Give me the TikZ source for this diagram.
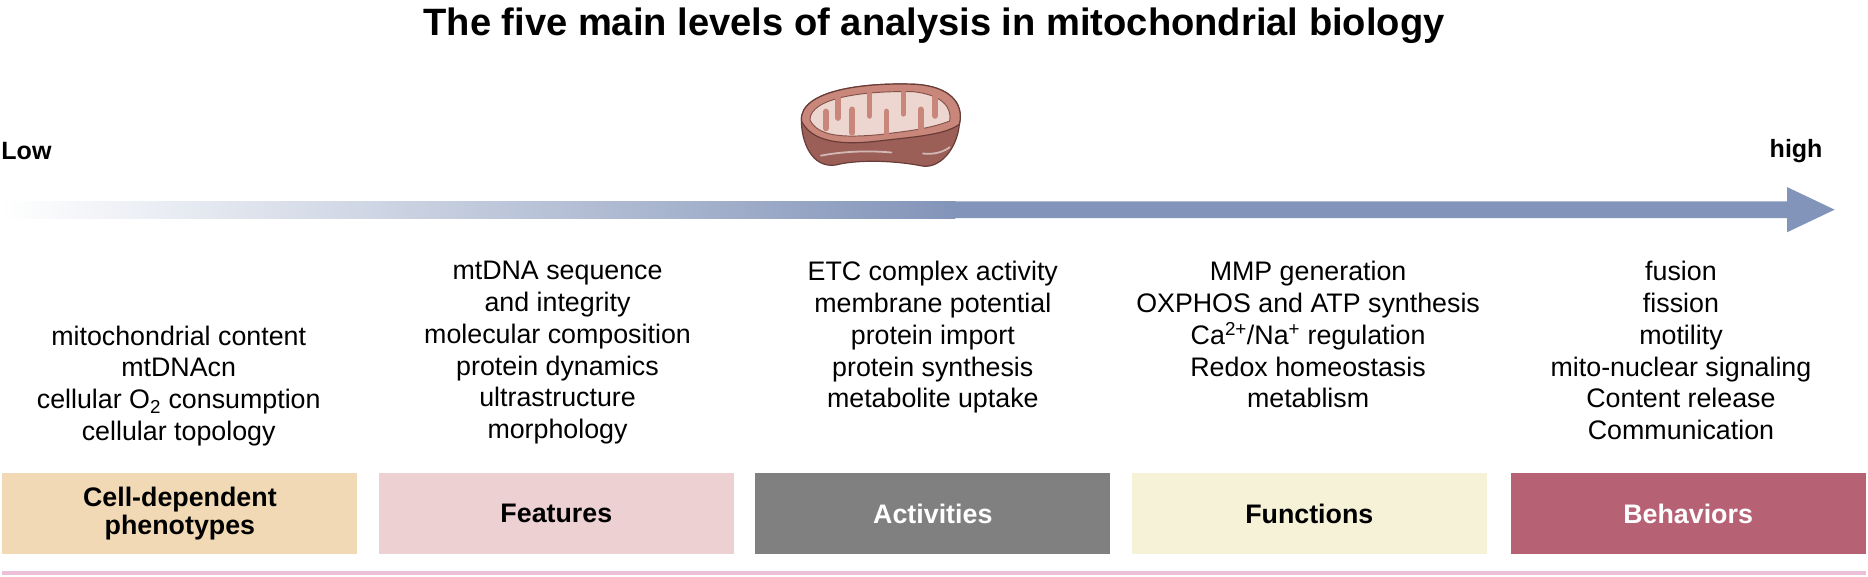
\documentclass[tikz,border=0pt]{standalone}
\usepackage{fontspec}
\setmainfont{Liberation Sans}
\usetikzlibrary{positioning}
\definecolor{arrowblue}{RGB}{130,148,185}
\definecolor{cellc}{RGB}{240,217,180}
\definecolor{featc}{RGB}{236,208,210}
\definecolor{actc}{RGB}{128,128,128}
\definecolor{funcc}{RGB}{245,242,215}
\definecolor{behc}{RGB}{182,98,116}
\definecolor{lineC}{RGB}{236,192,216}
\definecolor{mitoout}{RGB}{200,135,122}
\definecolor{mitodark}{RGB}{155,95,88}
\definecolor{mitoin}{RGB}{238,214,208}
\definecolor{mitoedge}{RGB}{105,60,55}
\tikzset{
  lvl/.style={minimum width=298pt, minimum height=68pt, inner sep=0pt,
    font=\fontsize{22.5}{25}\selectfont\bfseries, align=center},
  items/.style={font=\fontsize{22.5}{26.6}\selectfont, align=center, anchor=north},
  crista/.style={mitoout, line width=5pt, line cap=round},
}
\begin{document}
\begin{tikzpicture}[x=1pt,y=-1pt]
  \useasboundingbox (0,0) rectangle (1568,484);
  % title and ends of the scale
  \node (title) at (784,22) {\fontsize{32}{36}\selectfont\bfseries The five main levels of analysis in mitochondrial biology};
  \node[anchor=west, inner sep=1pt] (low) at (0,127) {\fontsize{21}{24}\selectfont\bfseries Low};
  \node[anchor=east, inner sep=1pt] (high) at (1531,127) {\fontsize{21}{24}\selectfont\bfseries high};
  % arrow
  \shade[left color=white, right color=arrowblue, shading angle=90] (0,169) rectangle (802,183);
  \fill[arrowblue] (800,169) -- (1500,169) -- (1500,157) -- (1540,176) -- (1500,195) -- (1500,183) -- (800,183) -- cycle;
  % mitochondrion
  \begin{scope}[shift={(738,106)}, xscale=1.02, yscale=0.88]
    \fill[mitodark, draw=mitoedge, line width=1pt] (-64,-5) .. controls (-66,-35) and (-10,-42) .. (30,-40)
      .. controls (58,-38) and (70,-22) .. (66,-2) .. controls (64,22) and (50,40) .. (36,38)
      .. controls (10,32) and (-20,32) .. (-36,37) .. controls (-56,40) and (-64,14) .. (-64,-5) -- cycle;
    \fill[mitoout, draw=mitoedge, line width=1pt] (-64,-5) .. controls (-66,-35) and (-10,-42) .. (30,-40)
      .. controls (58,-38) and (70,-22) .. (66,-2) .. controls (55,8) and (30,10) .. (0,14)
      .. controls (-30,18) and (-55,16) .. (-64,-5) -- cycle;
    \fill[mitoin, draw=mitoedge!70!mitoout, line width=0.8pt] (-57,-6) .. controls (-57,-28) and (-10,-34) .. (28,-33)
      .. controls (52,-30) and (60,-18) .. (58,-5) .. controls (40,3) and (20,5) .. (0,8)
      .. controls (-30,11) and (-50,10) .. (-57,-6) -- cycle;
    \foreach \cx/\ya/\yb in {-44/2/-14,-34/-27/-8,-22/6/-16,-8/-31/-10,6/7/-14,20/-32/-12,34/5/-16,46/-29/-10}
      \draw[crista] (\cx,\ya) -- (\cx,\yb);
    \draw[white!55!mitodark, line width=1.5pt, line cap=round] (-48,28) .. controls (-30,24) and (-10,23) .. (10,25);
    \draw[white!55!mitodark, line width=1.5pt, line cap=round] (36,26) .. controls (45,27) and (52,25) .. (58,20);
  \end{scope}
  % columns of items
  \node[items] (itemsA) at (150,270) {mitochondrial content\\mtDNAcn\\cellular O\textsubscript{2} consumption\\cellular topology};
  \node[items] (itemsB) at (468,216) {mtDNA sequence\\and integrity\\molecular composition\\protein dynamics\\ultrastructure\\morphology};
  \node[items] (itemsC) at (783,216) {ETC complex activity\\membrane potential\\protein import\\protein synthesis\\metabolite uptake};
  \node[items] (itemsD) at (1098,216) {MMP generation\\OXPHOS and ATP synthesis\\Ca\textsuperscript{2+}/Na\textsuperscript{+} regulation\\Redox homeostasis\\metablism};
  \node[items] (itemsE) at (1411,216) {fusion\\fission\\motility\\mito-nuclear signaling\\Content release\\Communication};
  % level boxes
  \node[lvl, fill=cellc] (cell) at (151,431) {Cell-dependent\\[-2pt]phenotypes};
  \node[lvl, fill=featc] (feat) at (467,431) {Features};
  \node[lvl, fill=actc, text=white] (act) at (783,431) {Activities};
  \node[lvl, fill=funcc] (func) at (1099,431) {Functions};
  \node[lvl, fill=behc, text=white] (beh) at (1417,431) {Behaviors};
  \draw[lineC, line width=3pt] (2,481) -- (1566,481);
\end{tikzpicture}
\end{document}
